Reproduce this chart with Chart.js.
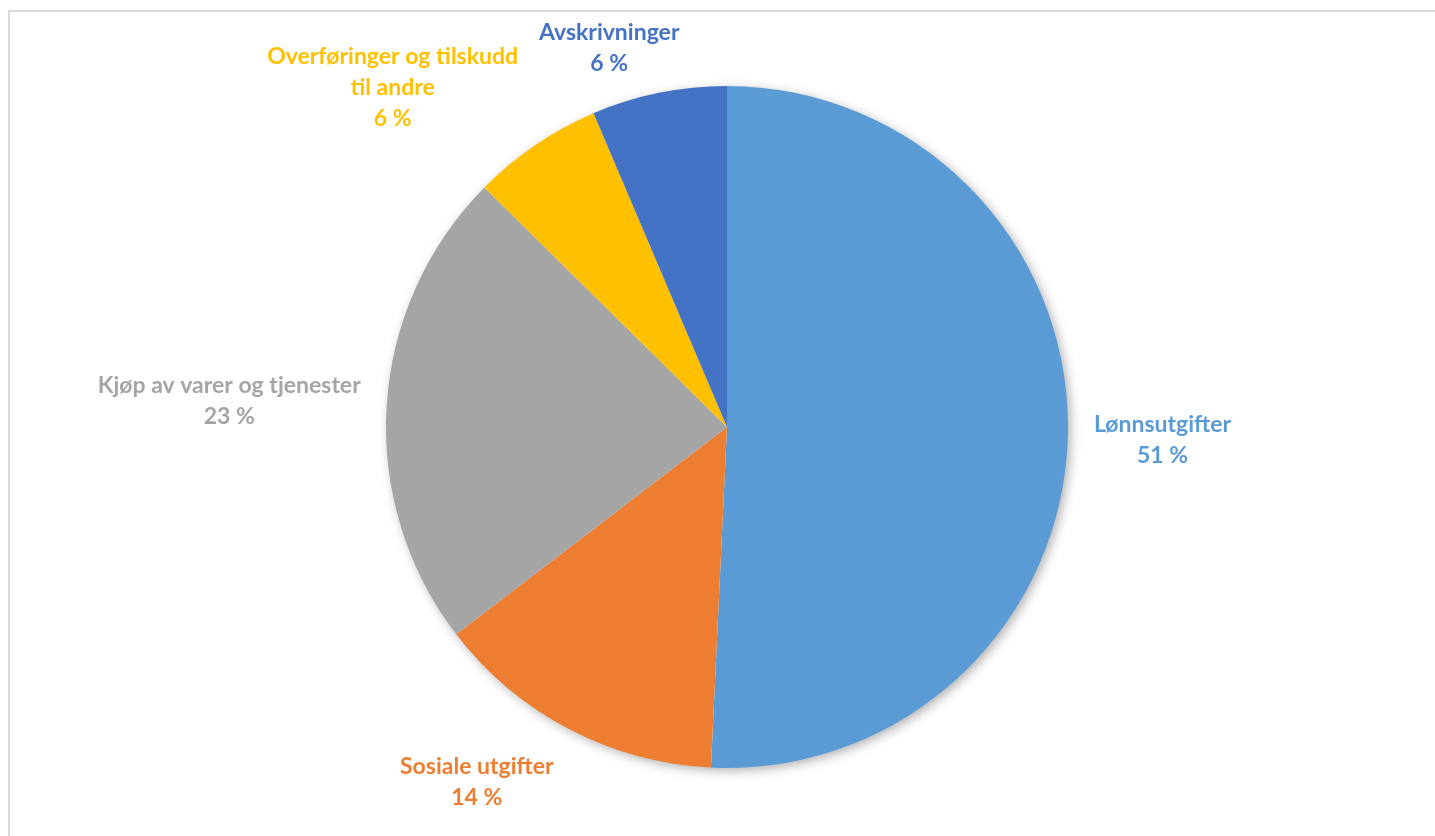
<!DOCTYPE html>
<html>
<head>
<meta charset="utf-8">
<script src="https://cdn.jsdelivr.net/npm/chart.js@4"></script>
<style>
  html, body { margin: 0; padding: 0; background: #fff; overflow: hidden; }
  #frame {
    position: absolute; left: 8px; top: 10px; width: 1500px; height: 900px;
    border-top: 2px solid #D9D9D9; border-left: 2px solid #D9D9D9;
  }
  #wrap { position: absolute; left: 0; top: 0; width: 1435px; height: 836px; }
</style>
</head>
<body>
<div id="frame"></div>
<div id="wrap"><canvas id="pieChart"></canvas></div>
<script>
// Data (share of total, %)
const categories = ['Lønnsutgifter', 'Sosiale utgifter', 'Kjøp av varer og tjenester', 'Overføringer og tilskudd til andre', 'Avskrivninger'];
const values = [50.75, 13.85, 22.8, 6.2, 6.4];
const colors = ['#5B9BD5', '#ED7D31', '#A5A5A5', '#FFC000', '#4472C4'];
// How each category label is broken over lines
const labelLines = [
    ['Lønnsutgifter'],
    ['Sosiale utgifter'],
    ['Kjøp av varer og tjenester'],
    ['Overføringer og tilskudd', 'til andre'],
    ['Avskrivninger']
];

const total = values.reduce((a, b) => a + b, 0);
const FONT = 'bold 23px Lato, "Open Sans", sans-serif';
const LINE_H = 31;

// Soft shadow under the whole pie, drawn before the slices
const pieShadow = {
    id: 'pieShadow',
    beforeDatasetsDraw(chart) {
        const arc = chart.getDatasetMeta(0).data[0];
        if (!arc) return;
        const ctx = chart.ctx;
        ctx.save();
        ctx.shadowColor = 'rgba(0,0,0,0.35)';
        ctx.shadowBlur = 12;
        ctx.shadowOffsetX = 3;
        ctx.shadowOffsetY = 3;
        ctx.fillStyle = '#ffffff';
        ctx.beginPath();
        ctx.arc(arc.x, arc.y, arc.outerRadius - 1, 0, Math.PI * 2);
        ctx.fill();
        ctx.restore();
    }
};

// Labels outside the pie, Excel "best fit" style
const outsideLabels = {
    id: 'outsideLabels',
    afterDatasetsDraw(chart) {
        const ctx = chart.ctx;
        const meta = chart.getDatasetMeta(0);
        ctx.save();
        ctx.font = FONT;
        ctx.textAlign = 'center';
        ctx.textBaseline = 'middle';
        meta.data.forEach((arc, i) => {
            const mid = (arc.startAngle + arc.endAngle) / 2;
            // angle measured clockwise from top
            const theta = mid + Math.PI / 2;
            const s = Math.sin(theta), c = Math.cos(theta);
            const dist = arc.outerRadius + 20;
            const px = arc.x + dist * s;
            const py = arc.y - dist * c;
            const lines = labelLines[i].concat([Math.round(values[i] / total * 100) + ' %']);
            const w = Math.max(...lines.map(t => ctx.measureText(t).width)) + 12;
            const h = lines.length * LINE_H;
            const clamp = v => Math.max(-1, Math.min(1, v));
            const cx = px + clamp(s * 3) * w / 2;
            // boxes above the pie sit a bit closer, boxes below a bit further
            const cy = py - clamp(c * 3) * (h + (c > 0 ? -8 : 4)) / 2 + 2;
            ctx.fillStyle = colors[i];
            lines.forEach((t, k) => {
                ctx.fillText(t, cx, cy - h / 2 + LINE_H * (k + 0.5));
            });
        });
        ctx.restore();
    }
};

const ctx = document.getElementById('pieChart').getContext('2d');

new Chart(ctx, {
    type: 'pie',
    data: {
        labels: categories,
        datasets: [{
            data: values,
            backgroundColor: colors,
            borderWidth: 0,
            hoverOffset: 0
        }]
    },
    options: {
        responsive: true,
        maintainAspectRatio: false,
        animation: false,
        layout: {
            padding: { top: 86, bottom: 68, left: 386, right: 367 }
        },
        plugins: {
            legend: { display: false },
            tooltip: { enabled: false }
        }
    },
    plugins: [pieShadow, outsideLabels]
});
</script>
</body>
</html>
